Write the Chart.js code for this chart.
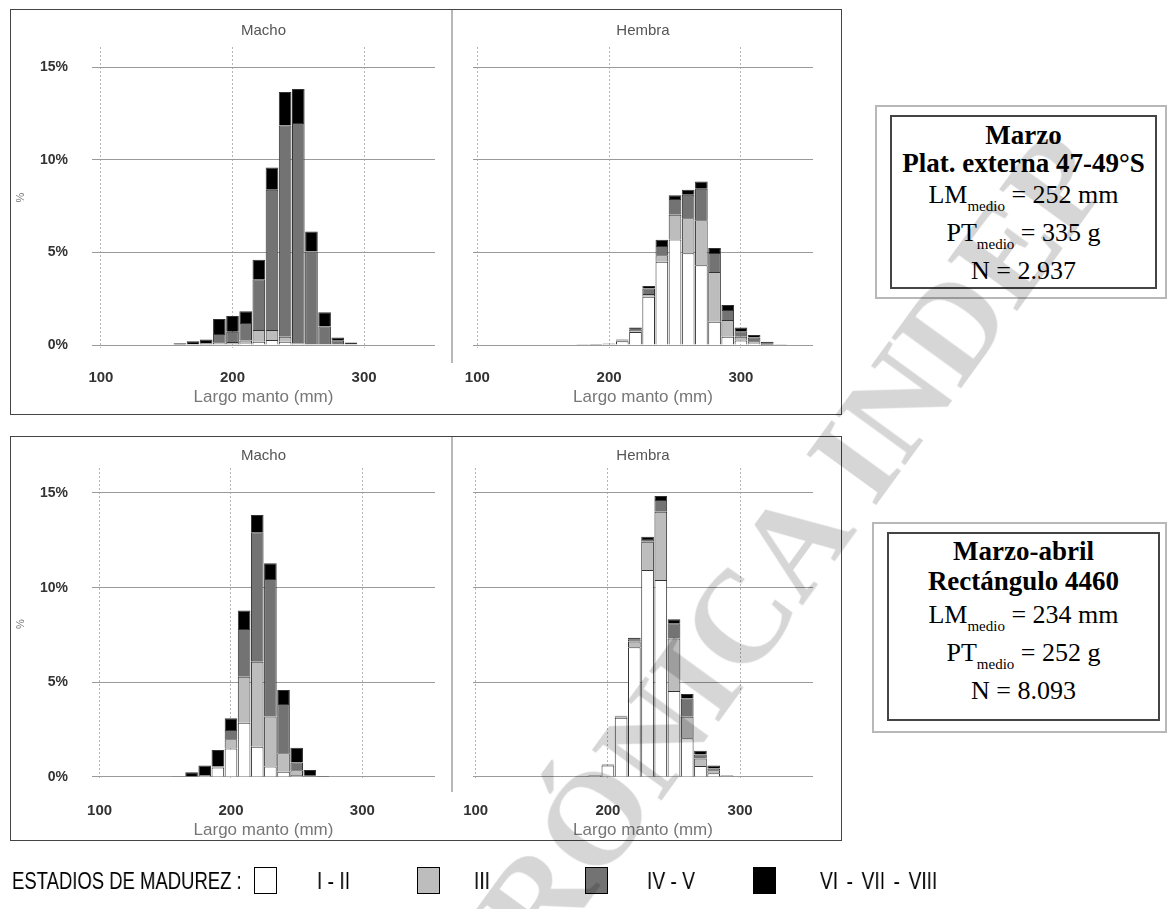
<!DOCTYPE html>
<html lang="es">
<head>
<meta charset="utf-8">
<title>Estadios de madurez por talla</title>
<script src="https://cdn.jsdelivr.net/npm/chart.js@4.4.1/dist/chart.umd.min.js"></script>
<style>
  html, body { margin: 0; padding: 0; background: #fff; }
  body { position: relative; width: 1170px; height: 909px; overflow: hidden; font-family: 'Liberation Sans', Arial, sans-serif; }
  .panel { position: absolute; border: 1px solid #444; box-sizing: border-box; }
  .sep { position: absolute; width: 2px; background: #b8b8b8; }
  canvas { position: absolute; }
  .caja-ext { position: absolute; border: 2px solid #b8b8b8; box-sizing: border-box; }
  .caja-int { position: absolute; border: 2px solid #444; box-sizing: border-box; }
  .linea { position: absolute; left: 0; right: 0; height: 30px; line-height: 30px; text-align: center;
           font-family: 'Liberation Serif', 'Times New Roman', serif; font-size: 26px; color: #000; white-space: nowrap; }
  .linea.neg { font-weight: bold; font-size: 27px; }
  .sub { font-size: 15px; vertical-align: -8px; line-height: 1; }
  .ley { position: absolute; top: 864px; height: 34px; line-height: 34px; font-family: 'Liberation Sans', Arial, sans-serif;
         font-size: 24px; color: #000; white-space: nowrap; transform-origin: 0 50%; transform: scaleX(0.8); will-change: transform; }
  .ley.titulo { transform: scaleX(0.77); }
  .ley-caja { position: absolute; top: 867px; width: 23px; height: 27px; border: 1.5px solid #000; box-sizing: border-box; }
  #marca { position: absolute; left: 452px; top: 948px; height: 132px; line-height: 132px; white-space: nowrap;
           font-family: 'Liberation Serif', 'Times New Roman', serif; font-weight: bold; font-size: 132px;
           color: rgba(0, 0, 0, 0.16); transform-origin: 0 66px; transform: rotate(-54deg); pointer-events: none; }
</style>
</head>
<body>

<!-- Paneles -->
<div class="panel" style="left:10px; top:9px; width:832px; height:406px;"></div>
<div class="panel" style="left:10px; top:436px; width:832px; height:405px;"></div>
<div class="sep" style="left:451px; top:10px; height:353px;"></div>
<div class="sep" style="left:451px; top:437px; height:355px;"></div>

<canvas id="marzoMacho" width="437" height="402" style="left:11px; top:10px;"></canvas>
<canvas id="marzoHembra" width="390" height="402" style="left:455px; top:10px;"></canvas>
<canvas id="abrilMacho" width="437" height="405" style="left:11px; top:437px;"></canvas>
<canvas id="abrilHembra" width="390" height="405" style="left:455px; top:437px;"></canvas>

<!-- Cuadros de resumen -->
<div class="caja-ext" style="left:875px; top:105px; width:292px; height:194px;"></div>
<div class="caja-int" style="left:890px; top:115px; width:267px; height:174px;">
  <div class="linea neg" style="top:3px;">Marzo</div>
  <div class="linea neg" style="top:31px;">Plat. externa 47-49°S</div>
  <div class="linea" style="top:63px;">LM<span class="sub">medio</span> = 252 mm</div>
  <div class="linea" style="top:101px;">PT<span class="sub">medio</span> = 335 g</div>
  <div class="linea" style="top:139px;">N = 2.937</div>
</div>

<div class="caja-ext" style="left:872px; top:522px; width:295px; height:211px;"></div>
<div class="caja-int" style="left:887px; top:532px; width:273px; height:189px;">
  <div class="linea neg" style="top:2px;">Marzo-abril</div>
  <div class="linea neg" style="top:32px;">Rectángulo 4460</div>
  <div class="linea" style="top:66px;">LM<span class="sub">medio</span> = 234 mm</div>
  <div class="linea" style="top:104px;">PT<span class="sub">medio</span> = 252 g</div>
  <div class="linea" style="top:142px;">N = 8.093</div>
</div>

<!-- Leyenda -->
<div id="leyenda"></div>

<div id="marca">CRÓNICA INDEP</div>

<script>
// Clases de talla (mm): centro de cada intervalo de 10 mm
const tallas = [120, 130, 140, 150, 160, 170, 180, 190, 200, 210, 220, 230, 240, 250, 260, 270, 280, 290, 300, 310, 320, 330];

// Marzo, Plat. externa 47-49°S - machos (% por estadio)
const marzoMachoI_II = [0, 0, 0, 0, 0, 0, 0, 0.05, 0.05, 0.1, 0.18, 0.27, 0.18, 0.03, 0, 0, 0, 0, 0, 0, 0, 0];
const marzoMachoIII = [0, 0, 0, 0, 0, 0, 0, 0.1, 0.12, 0.15, 0.63, 0.54, 0.27, 0.05, 0, 0, 0, 0, 0, 0, 0, 0];
const marzoMachoIV_V = [0, 0, 0, 0, 0.03, 0.05, 0.1, 0.45, 0.55, 0.94, 2.74, 7.57, 11.4, 11.9, 5.05, 1.0, 0.26, 0.04, 0, 0, 0, 0];
const marzoMachoVI_VIII = [0, 0, 0, 0, 0.07, 0.15, 0.2, 0.8, 0.85, 0.63, 1.05, 1.2, 1.8, 1.84, 1.08, 0.77, 0.15, 0.1, 0, 0, 0, 0];

// Marzo - hembras
const marzoHembraI_II = [0, 0, 0, 0, 0, 0, 0.02, 0.03, 0.05, 0.2, 0.7, 2.6, 4.5, 5.7, 4.95, 4.3, 1.26, 0.45, 0.25, 0.1, 0, 0];
const marzoHembraIII = [0, 0, 0, 0, 0, 0, 0, 0, 0.02, 0.03, 0.05, 0.15, 0.35, 1.33, 1.89, 2.43, 2.68, 0.9, 0.2, 0.1, 0.02, 0];
const marzoHembraIV_V = [0, 0, 0, 0, 0, 0, 0, 0, 0.01, 0.03, 0.07, 0.3, 0.5, 0.85, 1.27, 1.7, 1.02, 0.54, 0.3, 0.2, 0.08, 0.02];
const marzoHembraVI_VIII = [0, 0, 0, 0, 0, 0, 0.01, 0.02, 0.02, 0.04, 0.12, 0.14, 0.33, 0.2, 0.27, 0.4, 0.27, 0.27, 0.2, 0.14, 0.08, 0.01];

// Marzo-abril, Rectángulo 4460 - machos
const abrilMachoI_II = [0.02, 0.02, 0, 0, 0, 0, 0.1, 0.5, 1.51, 2.87, 1.6, 0.55, 0.28, 0.1, 0, 0, 0, 0, 0, 0, 0, 0];
const abrilMachoIII = [0, 0, 0, 0, 0, 0, 0, 0.05, 0.48, 2.43, 4.49, 2.64, 0.97, 0.26, 0.02, 0, 0, 0, 0, 0, 0, 0];
const abrilMachoIV_V = [0, 0, 0, 0, 0.01, 0, 0, 0, 0.49, 2.52, 6.83, 7.27, 2.6, 0.4, 0.05, 0.02, 0, 0, 0, 0, 0, 0];
const abrilMachoVI_VIII = [0, 0, 0, 0, 0.02, 0.25, 0.5, 0.88, 0.62, 0.97, 0.92, 0.83, 0.74, 0.79, 0.3, 0.03, 0.03, 0, 0, 0, 0, 0];

// Marzo-abril - hembras
const abrilHembraI_II = [0, 0.03, 0, 0, 0, 0, 0.02, 0.08, 0.6, 3.13, 6.85, 10.93, 10.4, 4.54, 2.04, 0.58, 0.2, 0.05, 0, 0, 0, 0];
const abrilHembraIII = [0, 0, 0, 0, 0, 0, 0, 0.01, 0.03, 0.04, 0.3, 1.5, 3.61, 2.78, 1.14, 0.4, 0.15, 0.02, 0, 0, 0, 0];
const abrilHembraIV_V = [0, 0, 0, 0, 0, 0, 0, 0, 0.02, 0.03, 0.12, 0.14, 0.62, 0.8, 0.97, 0.21, 0.1, 0.01, 0, 0, 0, 0];
const abrilHembraVI_VIII = [0, 0, 0, 0, 0, 0, 0.01, 0.01, 0.02, 0.04, 0.09, 0.12, 0.21, 0.21, 0.23, 0.19, 0.15, 0.02, 0, 0, 0, 0];

// Ejes y estadios
const ticksX = [100, 200, 300];
const ticksY = [0, 5, 10, 15];
const estadios = ['I - II', 'III', 'IV - V', 'VI - VII - VIII'];
const coloresEstadio = ['#ffffff', '#bdbdbd', '#737373', '#000000'];

const fuente = "'Liberation Sans', Arial, sans-serif";

// Histograma apilado de un sexo
function crearHistograma(id, series, g) {
  const ctx = document.getElementById(id).getContext('2d');
  return new Chart(ctx, {
    type: 'bar',
    data: {
      datasets: series.map((valores, i) => ({
        label: estadios[i],
        data: tallas.map((t, j) => ({ x: t, y: valores[j] || null })),
        backgroundColor: coloresEstadio[i],
        borderColor: '#333',
        borderWidth: 1,
        barPercentage: 0.96,
        categoryPercentage: 1
      }))
    },
    options: {
      responsive: false,
      animation: false,
      events: [],
      layout: { padding: { left: 0, right: g.padDer, top: 0, bottom: 0 } },
      plugins: {
        legend: { display: false },
        tooltip: { enabled: false },
        title: {
          display: true,
          text: g.titulo,
          fullSize: false,
          color: '#555',
          font: { family: fuente, size: 15, weight: 'normal' },
          padding: { top: g.titArriba, bottom: g.titAbajo }
        }
      },
      scales: {
        x: {
          type: 'linear',
          stacked: true,
          offset: false,
          min: g.xMin,
          max: g.xMax,
          afterBuildTicks: s => { s.ticks = ticksX.map(v => ({ value: v })); },
          afterFit: s => { s.height = g.altoX; s.paddingLeft = 0; s.paddingRight = 0; },
          grid: { color: '#b5b5b5', drawTicks: false, offset: false },
          border: { display: false, dash: [2, 2] },
          ticks: { color: '#333', maxRotation: 0, padding: g.padTickX, font: { family: fuente, size: 15, weight: 'bold' } },
          title: {
            display: true,
            text: 'Largo manto (mm)',
            color: '#777',
            font: { family: fuente, size: 17 },
            padding: { top: 0, bottom: g.padTitX }
          }
        },
        y: {
          stacked: true,
          min: g.yMin,
          max: g.yMax,
          afterBuildTicks: s => { s.ticks = ticksY.map(v => ({ value: v })); },
          afterFit: s => { s.width = g.anchoY; s.paddingTop = 0; s.paddingBottom = 0; },
          grid: { color: '#9a9a9a', drawTicks: false },
          border: { display: false },
          ticks: {
            display: g.conEje,
            color: '#333',
            padding: 24,
            font: { family: fuente, size: 14, weight: 'bold' },
            callback: v => v + '%'
          },
          title: {
            display: g.conEje,
            text: '%',
            color: '#777',
            font: { family: fuente, size: 11 },
            padding: { top: 3, bottom: 0 }
          }
        }
      }
    }
  });
}

// Marzo
crearHistograma('marzoMacho', [marzoMachoI_II, marzoMachoIII, marzoMachoIV_V, marzoMachoVI_VIII], {
  titulo: 'Macho', conEje: true, xMin: 93.2, xMax: 353.9, yMin: -0.16, yMax: 16.08,
  anchoY: 81, padDer: 13, titArriba: 12, titAbajo: 7, altoX: 64, padTickX: 21, padTitX: 4
});
crearHistograma('marzoHembra', [marzoHembraI_II, marzoHembraIII, marzoHembraIV_V, marzoHembraVI_VIII], {
  titulo: 'Hembra', conEje: false, xMin: 96.7, xMax: 354.7, yMin: -0.16, yMax: 16.08,
  anchoY: 18, padDer: 32, titArriba: 12, titAbajo: 7, altoX: 64, padTickX: 21, padTitX: 4
});

// Marzo-abril
crearHistograma('abrilMacho', [abrilMachoI_II, abrilMachoIII, abrilMachoIV_V, abrilMachoVI_VIII], {
  titulo: 'Macho', conEje: true, xMin: 94.2, xMax: 355.3, yMin: -0.16, yMax: 16.32,
  anchoY: 81, padDer: 13, titArriba: 10, titAbajo: 3, altoX: 62, padTickX: 22, padTitX: 1
});
crearHistograma('abrilHembra', [abrilHembraI_II, abrilHembraIII, abrilHembraIV_V, abrilHembraVI_VIII], {
  titulo: 'Hembra', conEje: false, xMin: 98.0, xMax: 355.1, yMin: -0.16, yMax: 16.32,
  anchoY: 18, padDer: 32, titArriba: 10, titAbajo: 3, altoX: 62, padTickX: 22, padTitX: 1
});

// Leyenda de estadios (texto estrecho)
function crearLeyenda() {
  const cont = document.getElementById('leyenda');
  const posCaja = [254, 417, 585, 753];
  const posTexto = [317, 474, 647, 820];
  let html = '<span class="ley titulo" style="left:12px">ESTADIOS DE MADUREZ :</span>';
  estadios.forEach((e, i) => {
    html += `<span class="ley-caja" style="left:${posCaja[i]}px; background:${coloresEstadio[i]}"></span>`;
    html += `<span class="ley" style="left:${posTexto[i]}px">${e}</span>`;
  });
  cont.innerHTML = html;
  // la última etiqueta es algo más ancha en el original
  const ultima = cont.querySelectorAll('.ley')[estadios.length];
  ultima.style.wordSpacing = '4px';
}

crearLeyenda();
</script>
</body>
</html>
